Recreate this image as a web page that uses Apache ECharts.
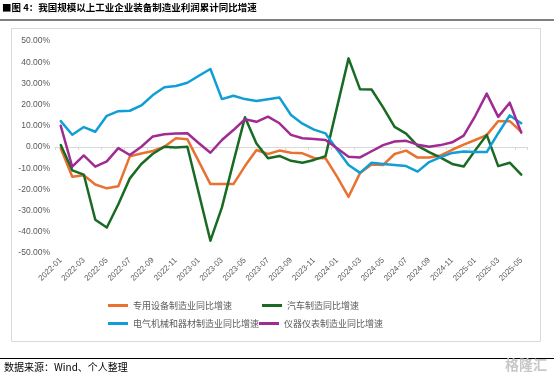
<!DOCTYPE html>
<html>
<head>
<meta charset="utf-8">
<script src="https://cdn.jsdelivr.net/npm/echarts@6/dist/echarts.min.js"></script>
<style>
html,body{margin:0;padding:0;background:#fff;}
#c{width:554px;height:379px;}
</style>
</head>
<body>
<div id="c"></div>
<script>
// Categories: months 2022-01 .. 2025-05
var months = ["2022-01","2022-02","2022-03","2022-04","2022-05","2022-06","2022-07","2022-08","2022-09","2022-10","2022-11","2022-12",
"2023-01","2023-02","2023-03","2023-04","2023-05","2023-06","2023-07","2023-08","2023-09","2023-10","2023-11","2023-12",
"2024-01","2024-02","2024-03","2024-04","2024-05","2024-06","2024-07","2024-08","2024-09","2024-10","2024-11","2024-12",
"2025-01","2025-02","2025-03","2025-04","2025-05"];

var seriesNames = ["专用设备制造业同比增速","汽车制造同比增速","电气机械和器材制造业同比增速","仪器仪表制造业同比增速"];

// 专用设备制造业同比增速 (%)
var special = [-0.6,-14,-13.3,-17.7,-19.5,-18.5,-4.4,-3.1,-1.9,0.1,4.1,3.6,
-6.9,-17.5,-17.5,-17.5,-9,-1.4,-3.3,-1.7,-2.7,-3,-5.2,-5.3,
-14,-23.5,-12.2,-8.3,-8.5,-3.3,-1.7,-5,-5,-4,-1.3,1.1,
3.3,5.6,12.2,12.2,7.2];

// 汽车制造同比增速 (%)
var auto = [0.9,-11,-13,-34.3,-38,-27,-14.8,-8,-3.2,0.1,-0.2,0.1,
-22,-44.2,-28.5,-7,14,1.7,-5.3,-4.2,-6.5,-7.4,-6.1,-4.3,
18.8,41.8,27.2,27.1,18.7,9.5,6.3,0.5,-2.4,-5,-8,-9.2,
-1.6,5.7,-9,-7.4,-13];

// 电气机械和器材制造业同比增速 (%)
var electric = [12.2,5.8,9.4,7.2,14.7,16.9,17.1,19.6,24.5,28.2,28.8,30.3,
33.6,36.8,22.6,24.2,22.6,21.7,22.5,23.3,15.1,11,8.2,6.4,
-1.2,-8.5,-12.2,-7.4,-8,-8.5,-9,-11.6,-7.1,-4.8,-2.8,-2.1,
-2.3,-2.4,6.5,14.9,11.2];

// 仪器仪表制造业同比增速 (%)
var instrument = [10,-9.3,-4,-9.3,-6.8,-0.5,-3.8,0.1,5,6,6.4,6.5,
1.8,-2.7,3.3,8,13.1,11.9,14.3,11.2,5.7,4.1,3.8,3.3,
-0.6,-4.6,-4.9,-2,0.9,2.6,2.9,1.1,0.1,0.9,2.2,5.4,
14.6,25.2,14.2,20.9,6.8];

var yTicks = {min:-50, max:50, interval:10};
var colors = ["#E97132","#196B24","#0F9ED5","#A02B93"];

var chart = echarts.init(document.getElementById('c'), null, {renderer:'canvas'});
var seriesData = [special, auto, electric, instrument];
var series = seriesData.map(function(d,i){
  return {
    name: seriesNames[i], type:'line', data:d, xAxisIndex:0, yAxisIndex:0,
    symbol:'none', smooth:false, z: 3,
    lineStyle:{width:2.5, color:colors[i], cap:'round', join:'round'},
    itemStyle:{color:colors[i]}
  };
});

var legendText = {fontSize:9, color:'#595959', fontFamily:'"Noto Sans CJK SC", sans-serif'};
var option = {
  backgroundColor:'#fff',
  animation:false,
  color: colors,
  grid:{left:55, right:27, top:41, bottom:126, containLabel:false},
  legend:[
    {data:[seriesNames[0], seriesNames[1]], left:108, top:301, orient:'horizontal', itemWidth:20, itemHeight:3, icon:'rect', itemGap:30, textStyle:legendText, padding:0},
    {data:[seriesNames[2], seriesNames[3]], left:108, top:319, orient:'horizontal', itemWidth:20, itemHeight:3, icon:'rect', itemGap:0, textStyle:legendText, padding:0}
  ],
  xAxis:[
    {type:'category', data:months, boundaryGap:true, position:'bottom',
     axisLine:{show:true, onZero:true, lineStyle:{color:'#d9d9d9', width:1}},
     axisTick:{show:true, interval:1, length:3, lineStyle:{color:'#d9d9d9'}},
     axisLabel:{show:false}, splitLine:{show:false}},
    {type:'category', data:months, boundaryGap:true, position:'bottom', gridIndex:0,
     axisLine:{show:false, onZero:false}, axisTick:{show:false},
     axisLabel:{show:true, interval:1, rotate:45, fontSize:8, color:'#595959', margin:6, fontFamily:'"Liberation Sans", Arial, sans-serif'},
     splitLine:{show:false}}
  ],
  yAxis:[{type:'value', min:yTicks.min, max:yTicks.max, interval:yTicks.interval,
    axisLine:{show:false}, axisTick:{show:false}, splitLine:{show:false},
    axisLabel:{formatter:function(v){return v.toFixed(2)+'%';}, fontSize:8.5, color:'#595959', margin:5, fontFamily:'"Liberation Sans", Arial, sans-serif'}}],
  series: series,
  graphic:[
    {type:'text', left:2, top:3, style:{text:'■图 4：我国规模以上工业企业装备制造业利润累计同比增速', fill:'#000', font:'bold 9.5px "Noto Sans CJK SC", sans-serif'}},
    {type:'line', shape:{x1:0, y1:20, x2:554, y2:20}, style:{stroke:'#000', lineWidth:1}},
    {type:'rect', shape:{x:11.5, y:28.5, width:529, height:313}, style:{fill:'none', stroke:'#d9d9d9', lineWidth:1}, z:-1},
    {type:'line', shape:{x1:0, y1:358.5, x2:554, y2:358.5}, style:{stroke:'#000', lineWidth:1}},
    {type:'text', left:4, top:362, style:{text:'数据来源：Wind、个人整理', fill:'#000', font:'10px "Noto Sans CJK SC", sans-serif'}},
    {type:'text', left:505, top:358, style:{text:'格隆汇', fill:'#c8c8c8', font:'bold 14px "Noto Sans CJK SC", sans-serif'}}
  ]
};
chart.setOption(option);
</script>
</body>
</html>
